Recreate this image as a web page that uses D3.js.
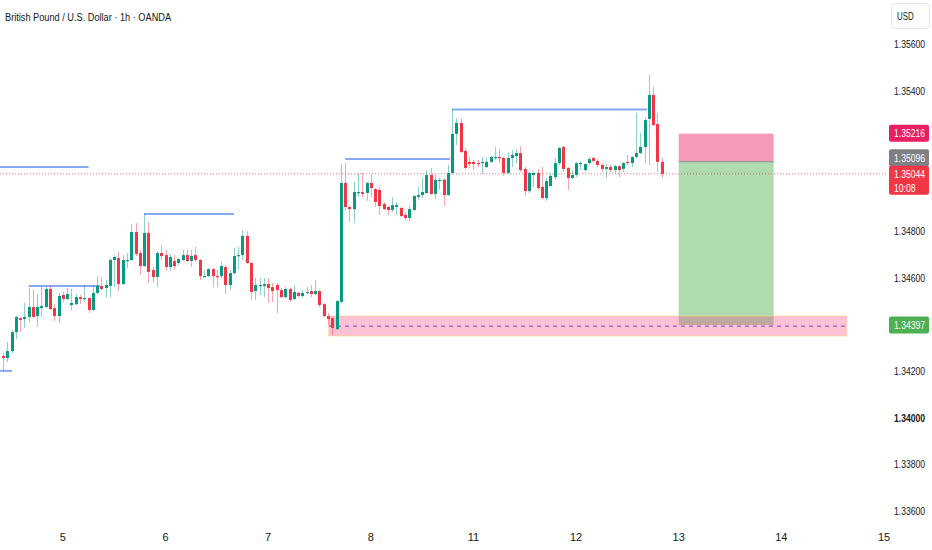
<!DOCTYPE html>
<html><head><meta charset="utf-8">
<script src="https://cdn.jsdelivr.net/npm/d3@7"></script>
<style>html,body{margin:0;padding:0;background:#fff;}svg{display:block;font-family:"Liberation Sans",Arial,sans-serif;}</style>
</head><body><svg id="c" width="932" height="550"></svg>
<script>
// ---- data (hourly candles, index 0 = first visible bar) ----
const open = [1.34264,1.34255,1.34285,1.34366,1.34426,1.34422,1.34431,1.34474,1.34435,1.34469,1.34474,1.34551,1.34469,1.34435,1.34525,1.34508,1.34482,1.34486,1.34516,1.34510,1.34512,1.34461,1.34534,1.34564,1.34555,1.34564,1.34675,1.34683,1.34572,1.34671,1.34675,1.34795,1.34705,1.34649,1.34791,1.34632,1.34602,1.34705,1.34696,1.34645,1.34671,1.34662,1.34675,1.34696,1.34671,1.34696,1.34675,1.34604,1.34606,1.34636,1.34606,1.34606,1.34645,1.34568,1.34619,1.34692,1.34696,1.34778,1.34662,1.34542,1.34564,1.34564,1.34572,1.34559,1.34568,1.34546,1.34516,1.34551,1.34508,1.34534,1.34521,1.34534,1.34542,1.34529,1.34542,1.34486,1.34435,1.34426,1.34379,1.34495,1.35005,1.34902,1.34893,1.34962,1.34966,1.34962,1.35005,1.34979,1.34975,1.34915,1.34902,1.34889,1.34902,1.34898,1.34868,1.34855,1.34889,1.34945,1.34953,1.34962,1.35039,1.34958,1.35013,1.35018,1.34953,1.35048,1.35215,1.35262,1.35142,1.35095,1.35095,1.35090,1.35090,1.35073,1.35095,1.35112,1.35116,1.35112,1.35048,1.35112,1.35120,1.35133,1.35065,1.34970,1.35039,1.35048,1.34988,1.34940,1.34992,1.35030,1.35090,1.35159,1.35069,1.35026,1.35039,1.35086,1.35060,1.35090,1.35112,1.35099,1.35082,1.35065,1.35073,1.35060,1.35077,1.35065,1.35095,1.35090,1.35116,1.35133,1.35159,1.35279,1.35382,1.35257,1.35095];
const high = [1.34277,1.34324,1.34375,1.34435,1.34431,1.34491,1.34555,1.34546,1.34529,1.34559,1.34564,1.34564,1.34486,1.34534,1.34538,1.34555,1.34551,1.34529,1.34525,1.34568,1.34516,1.34568,1.34606,1.34602,1.34589,1.34683,1.34696,1.34709,1.34696,1.34705,1.34829,1.34833,1.34718,1.34876,1.34838,1.34645,1.34713,1.34739,1.34718,1.34701,1.34696,1.34683,1.34718,1.34718,1.34718,1.34731,1.34679,1.34632,1.34641,1.34641,1.34632,1.34666,1.34653,1.34632,1.34726,1.34731,1.34803,1.34799,1.34666,1.34598,1.34598,1.34598,1.34598,1.34576,1.34576,1.34555,1.34559,1.34559,1.34568,1.34538,1.34546,1.34559,1.34568,1.34589,1.34546,1.34491,1.34448,1.34431,1.34504,1.35086,1.35090,1.34910,1.35009,1.35048,1.35048,1.35009,1.35043,1.34983,1.34988,1.34923,1.34906,1.34945,1.34923,1.34902,1.34880,1.34906,1.34953,1.34988,1.35026,1.35060,1.35069,1.35039,1.35030,1.35026,1.35082,1.35322,1.35283,1.35283,1.35155,1.35116,1.35103,1.35103,1.35116,1.35112,1.35120,1.35159,1.35146,1.35116,1.35137,1.35146,1.35150,1.35163,1.35073,1.35052,1.35052,1.35065,1.35073,1.35026,1.35048,1.35112,1.35159,1.35163,1.35073,1.35060,1.35095,1.35099,1.35090,1.35116,1.35116,1.35107,1.35090,1.35086,1.35082,1.35082,1.35082,1.35095,1.35125,1.35120,1.35305,1.35219,1.35283,1.35467,1.35416,1.35305,1.35112];
const low = [1.34199,1.34238,1.34277,1.34337,1.34366,1.34384,1.34409,1.34426,1.34388,1.34431,1.34469,1.34461,1.34414,1.34405,1.34495,1.34504,1.34461,1.34482,1.34486,1.34495,1.34448,1.34456,1.34529,1.34546,1.34516,1.34516,1.34559,1.34542,1.34568,1.34641,1.34671,1.34692,1.34611,1.34645,1.34576,1.34576,1.34559,1.34675,1.34628,1.34628,1.34632,1.34653,1.34671,1.34666,1.34645,1.34666,1.34589,1.34602,1.34602,1.34559,1.34559,1.34598,1.34529,1.34546,1.34611,1.34632,1.34675,1.34658,1.34504,1.34504,1.34525,1.34516,1.34491,1.34495,1.34448,1.34512,1.34512,1.34495,1.34504,1.34516,1.34512,1.34529,1.34516,1.34525,1.34474,1.34431,1.34396,1.34354,1.34375,1.34491,1.34885,1.34838,1.34833,1.34945,1.34945,1.34928,1.34945,1.34902,1.34868,1.34889,1.34868,1.34880,1.34868,1.34859,1.34846,1.34842,1.34885,1.34932,1.34940,1.34958,1.34953,1.34936,1.34975,1.34906,1.34949,1.35043,1.35167,1.35133,1.35060,1.35069,1.35060,1.35073,1.35043,1.35069,1.35090,1.35103,1.35090,1.35035,1.35043,1.35073,1.35090,1.35052,1.34949,1.34962,1.34988,1.34975,1.34936,1.34928,1.34988,1.35018,1.35082,1.35052,1.34975,1.35022,1.35030,1.35060,1.35052,1.35082,1.35090,1.35073,1.35052,1.35026,1.35052,1.35048,1.35030,1.35052,1.35082,1.35073,1.35112,1.35129,1.35090,1.35082,1.35249,1.35052,1.35026];
const close = [1.34255,1.34285,1.34366,1.34431,1.34418,1.34431,1.34474,1.34431,1.34474,1.34478,1.34551,1.34465,1.34435,1.34521,1.34508,1.34529,1.34491,1.34516,1.34508,1.34512,1.34461,1.34534,1.34564,1.34551,1.34568,1.34675,1.34688,1.34572,1.34675,1.34675,1.34795,1.34701,1.34649,1.34791,1.34624,1.34602,1.34705,1.34692,1.34645,1.34688,1.34649,1.34679,1.34696,1.34671,1.34692,1.34675,1.34606,1.34606,1.34636,1.34606,1.34602,1.34649,1.34568,1.34619,1.34692,1.34696,1.34778,1.34662,1.34538,1.34568,1.34568,1.34572,1.34555,1.34542,1.34546,1.34516,1.34551,1.34504,1.34538,1.34521,1.34534,1.34538,1.34529,1.34542,1.34482,1.34435,1.34422,1.34384,1.34499,1.35005,1.34902,1.34893,1.34966,1.34966,1.34958,1.35005,1.34983,1.34923,1.34906,1.34893,1.34889,1.34910,1.34910,1.34863,1.34855,1.34893,1.34949,1.34953,1.34966,1.35039,1.34958,1.35018,1.35018,1.34953,1.35048,1.35215,1.35262,1.35137,1.35069,1.35086,1.35086,1.35086,1.35095,1.35095,1.35116,1.35116,1.35112,1.35048,1.35112,1.35125,1.35133,1.35060,1.34970,1.35048,1.35048,1.34983,1.34940,1.35013,1.35035,1.35090,1.35155,1.35065,1.35026,1.35039,1.35090,1.35090,1.35086,1.35107,1.35099,1.35082,1.35065,1.35073,1.35060,1.35077,1.35060,1.35090,1.35090,1.35116,1.35133,1.35159,1.35274,1.35382,1.35253,1.35095,1.35044];

const dayLabels = ["5","6","7","8","11","12","13","14","15"];
const dayIndex  = [14,38,62,86,110,134,158,182,206];
const priceTicks = [1.336,1.338,1.340,1.342,1.346,1.348,1.354,1.356];

// horizontal levels (bar index start / end, price)
const levelStart = [-1,6,33,80,105,-1];
const levelEnd   = [20,22.7,54,104.5,150.6,2.1];
const levelPrice = [1.35073,1.34564,1.34872,1.35107,1.35320,1.34200];

// demand zone
const zoneStart = 76.2, zoneEnd = 197.3, zoneTop = 1.34435, zoneBottom = 1.34350, zoneMid = 1.34392;
// short position
const posStart = 158, posEnd = 180.2, posStop = 1.35216, posEntry = 1.35096, posTarget = 1.34397;
const lastPrice = 1.35044, countdown = "10:08";
const title = "British Pound / U.S. Dollar · 1h · OANDA";

// ---- drawing ----
const svg = d3.select("#c");
const x = d3.scaleLinear().domain([0,206]).range([3,884]);
const y = d3.scaleLinear().domain([1.336,1.356]).range([511,44]);
const fmt = d3.format(".5f");
const UP="#089981", DN="#f23645";

// narrow text helper (horizontal squeeze via transform)
function ntext(parent, tx, ty, size, sx, str, fill, weight){
  return parent.append("text").attr("transform",`translate(${tx},${ty}) scale(${sx},1)`)
    .attr("font-size",size).attr("fill",fill).attr("font-weight",weight||"normal").text(str);
}

const plot = svg.append("g");
// title
ntext(svg,5,21,11.5,0.8,title,"#131722");

// position box
plot.append("rect").attr("x",x(posStart)).attr("width",x(posEnd)-x(posStart))
  .attr("y",y(posEntry)).attr("height",y(posTarget)-y(posEntry)).attr("fill","rgba(76,175,80,0.45)");
plot.append("rect").attr("x",x(posStart)).attr("width",x(posEnd)-x(posStart))
  .attr("y",y(posStop)).attr("height",y(posEntry)-y(posStop)).attr("fill","rgba(233,30,99,0.45)");
plot.append("line").attr("x1",x(posStart)).attr("x2",x(posEnd)).attr("y1",y(posEntry)).attr("y2",y(posEntry))
  .attr("stroke","#8a8f98").attr("stroke-width",1);

// zone
plot.append("rect").attr("x",x(zoneStart)).attr("width",x(zoneEnd)-x(zoneStart))
  .attr("y",y(zoneTop)).attr("height",y(zoneBottom)-y(zoneTop))
  .attr("fill","rgba(242,54,120,0.3)").attr("stroke","rgba(255,200,120,0.6)").attr("stroke-width",1);
plot.append("line").attr("x1",x(zoneStart)).attr("x2",x(zoneEnd)).attr("y1",y(zoneMid)).attr("y2",y(zoneMid))
  .attr("stroke","#9c5fb5").attr("stroke-width",1.2).attr("stroke-dasharray","4,4");

// levels
levelPrice.forEach((p,i)=>{
  plot.append("line").attr("x1",Math.max(0,x(levelStart[i]))).attr("x2",x(levelEnd[i]))
    .attr("y1",y(p)).attr("y2",y(p)).attr("stroke","#86a8f5").attr("stroke-width",2);
});

// last price dotted line
plot.append("line").attr("x1",0).attr("x2",886).attr("y1",y(lastPrice)).attr("y2",y(lastPrice))
  .attr("stroke",DN).attr("stroke-width",1).attr("stroke-dasharray","1,2").attr("opacity",0.7);

// candles
const idx = d3.range(open.length);
const cg = plot.append("g");
cg.selectAll("line.w").data(idx).join("line")
  .attr("x1",i=>Math.round(x(i))+0.5).attr("x2",i=>Math.round(x(i))+0.5)
  .attr("y1",i=>y(high[i])).attr("y2",i=>y(low[i]))
  .attr("stroke",i=>close[i]>=open[i]?"rgba(8,153,129,0.45)":"rgba(242,54,69,0.45)").attr("stroke-width",1);
cg.selectAll("rect.b").data(idx).join("rect")
  .attr("x",i=>Math.round(x(i))-1).attr("width",3)
  .attr("y",i=>y(Math.max(open[i],close[i])))
  .attr("height",i=>Math.max(1.2,Math.abs(y(open[i])-y(close[i]))))
  .attr("fill",i=>close[i]>=open[i]?UP:DN);

// x axis labels
svg.selectAll("text.day").data(dayLabels).join("text")
  .attr("x",(d,i)=>x(dayIndex[i])).attr("y",541).attr("text-anchor","middle")
  .attr("font-size",11).attr("fill","#131722").text(d=>d);

// y axis labels
priceTicks.forEach(d=>ntext(svg,894,y(d)+4,10.5,0.82,fmt(d),"#131722",d===1.340?"bold":"normal"));

// USD box
svg.append("rect").attr("x",891.5).attr("y",3.5).attr("width",38).attr("height",25).attr("rx",4)
  .attr("fill","#fff").attr("stroke","#e0e3eb");
ntext(svg,897,20,10.5,0.75,"USD","#131722");

// tags
function tag(cy,h,fill,lines){
  svg.append("rect").attr("x",889).attr("y",cy).attr("width",40).attr("height",h).attr("rx",2).attr("fill",fill);
  lines.forEach((t,k)=>ntext(svg,894,cy+12.5+k*14,10.5,0.82,t,"#fff"));
}
tag(y(posStop)-9,17,"#e91e63",[fmt(posStop)]);
tag(y(posEntry)-12.5,17,"#7f8086",[fmt(posEntry)]);
tag(y(lastPrice)-8,29,"#f23645",[fmt(lastPrice),countdown]);
tag(y(posTarget)-8.5,17,"#4caf50",[fmt(posTarget)]);
</script></body></html>
